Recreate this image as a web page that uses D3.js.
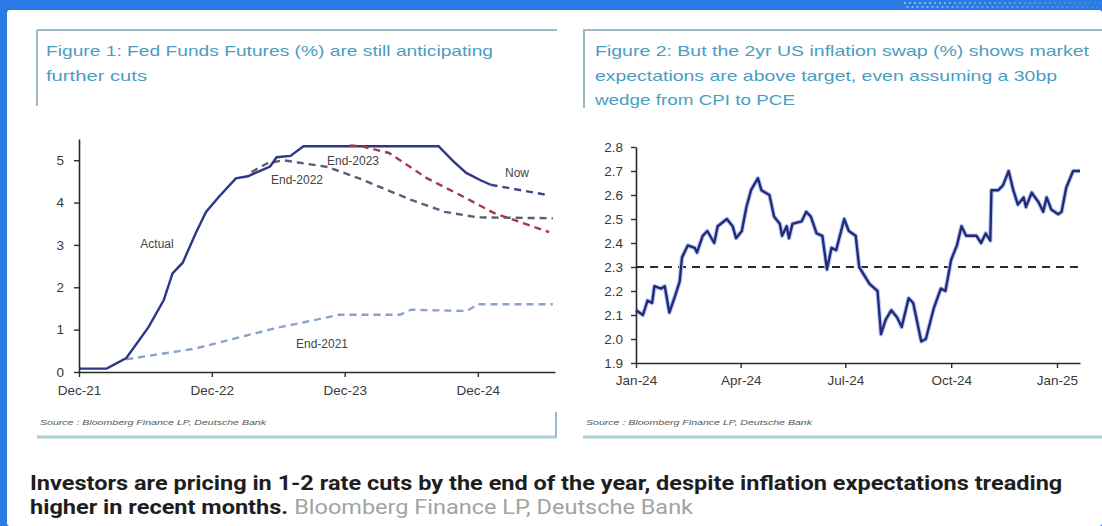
<!DOCTYPE html>
<html>
<head>
<meta charset="utf-8">
<script src="https://cdn.jsdelivr.net/npm/d3@7"></script>
<style>
  body { margin: 0; background: #ffffff; }
  svg { display: block; font-family: "Liberation Sans", Arial, sans-serif; }
</style>
</head>
<body>
<svg id="chart"></svg>
<script>
/** Figure 1: fed funds actual + futures curves (%) */
const actualDates = ['2021-12-01','2022-02-15','2022-04-10','2022-06-10','2022-07-22','2022-08-15','2022-09-12','2022-10-18','2022-11-15','2022-12-20','2023-02-05','2023-03-10','2023-04-05','2023-05-10','2023-05-28','2023-07-05','2023-08-10','2024-08-15','2024-09-25','2024-10-30','2024-12-10','2025-01-05'];
const actualRates = [0.08,0.08,0.33,1.06,1.7,2.33,2.58,3.28,3.78,4.13,4.57,4.62,4.72,4.85,5.07,5.1,5.33,5.33,4.97,4.7,4.52,4.42];

const nowDates = ['2025-01-05','2025-06-15'];
const nowRates = [4.42,4.17];

const end2021Dates = ['2022-04-10','2022-10-15','2023-03-01','2023-06-01','2023-08-15','2023-11-15','2024-05-01','2024-06-01','2024-11-01','2024-12-01','2025-06-25'];
const end2021Rates = [0.3,0.55,0.85,1.05,1.18,1.35,1.35,1.47,1.44,1.6,1.6];

const end2022Dates = ['2023-03-20','2023-05-01','2023-06-15','2023-10-15','2024-01-10','2024-06-01','2024-09-01','2024-12-01','2025-06-25'];
const end2022Rates = [4.72,4.92,5.0,4.84,4.57,4.06,3.78,3.65,3.63];

const end2023Dates = ['2023-12-15','2024-01-15','2024-04-01','2024-07-15','2024-10-15','2025-01-15','2025-03-10','2025-06-15'];
const end2023Rates = [5.35,5.33,5.17,4.57,4.17,3.75,3.59,3.3];

const fig1TickDates = ['2021-12-01','2022-12-01','2023-12-01','2024-12-01'];
const fig1TickLabels = ['Dec-21','Dec-22','Dec-23','Dec-24'];
const fig1YTicks = [0,1,2,3,4,5];

/** Figure 2: 2yr US inflation swap (%) */
const swapDates = ['2024-01-01','2024-01-07','2024-01-11','2024-01-15','2024-01-17','2024-01-23','2024-01-26','2024-01-30','2024-02-04','2024-02-08','2024-02-10','2024-02-15','2024-02-21','2024-02-23','2024-02-28','2024-03-03','2024-03-09','2024-03-12','2024-03-20','2024-03-25','2024-03-28','2024-04-02','2024-04-06','2024-04-10','2024-04-16','2024-04-19','2024-04-26','2024-04-30','2024-05-05','2024-05-07','2024-05-11','2024-05-13','2024-05-16','2024-05-24','2024-05-28','2024-06-01','2024-06-06','2024-06-11','2024-06-15','2024-06-19','2024-06-23','2024-06-30','2024-07-04','2024-07-10','2024-07-13','2024-07-22','2024-07-29','2024-08-01','2024-08-05','2024-08-10','2024-08-15','2024-08-19','2024-08-25','2024-08-29','2024-09-05','2024-09-09','2024-09-16','2024-09-22','2024-09-26','2024-10-01','2024-10-06','2024-10-10','2024-10-14','2024-10-19','2024-10-23','2024-10-27','2024-10-31','2024-11-04','2024-11-05','2024-11-11','2024-11-15','2024-11-20','2024-11-24','2024-11-28','2024-12-03','2024-12-05','2024-12-10','2024-12-16','2024-12-20','2024-12-23','2024-12-27','2025-01-02','2025-01-05','2025-01-09','2025-01-15','2025-01-21'];
const swapValues = [2.12,2.10,2.16,2.15,2.22,2.21,2.22,2.11,2.18,2.24,2.34,2.39,2.38,2.36,2.43,2.45,2.40,2.47,2.50,2.47,2.42,2.45,2.55,2.62,2.67,2.62,2.60,2.51,2.48,2.43,2.47,2.42,2.48,2.49,2.53,2.51,2.44,2.43,2.29,2.38,2.37,2.50,2.45,2.43,2.30,2.23,2.20,2.02,2.08,2.12,2.09,2.05,2.17,2.15,1.99,2.00,2.13,2.21,2.20,2.33,2.39,2.47,2.43,2.43,2.43,2.40,2.44,2.41,2.62,2.62,2.64,2.70,2.62,2.56,2.59,2.55,2.61,2.57,2.53,2.59,2.54,2.52,2.53,2.63,2.70,2.70];
const swapTarget = 2.3;

const fig2TickDates = ['2024-01-01','2024-04-01','2024-07-01','2024-10-01','2025-01-01'];
const fig2TickLabels = ['Jan-24','Apr-24','Jul-24','Oct-24','Jan-25'];
const fig2YTicks = [1.9,2.0,2.1,2.2,2.3,2.4,2.5,2.6,2.7,2.8];

let width = 1102;
let height = 526;

let svg = d3.select('#chart');
const parse = d3.timeParse('%Y-%m-%d');
const zip = (ds, vs) => ds.map((d, i) => ({ date: parse(d), value: vs[i] }));

let x1, y1, x2, y2;

/** Page frame: blue band, card, panel borders */
const drawFrame = () => {
    svg.attr('width', width).attr('height', height);

    svg.append('rect').attr('width', width).attr('height', height).attr('fill', '#2a7be3');
    svg.append('rect').attr('x', 7).attr('y', 10).attr('width', width - 7).attr('height', height - 10)
        .attr('rx', 3).attr('fill', '#ffffff');

    // decorative dots in the top band
    let dots = svg.append('g').attr('fill', '#9fcaf7');
    for (let r = 0; r < 2; r++) {
        for (let c = 0; c < 40; c++) {
            dots.append('circle')
                .attr('cx', 905 + c * 5 + r * 2.5)
                .attr('cy', 3 + r * 4)
                .attr('r', 1.1)
                .attr('opacity', 0.9 - c * 0.018);
        }
    }

    let border = '#9db9c6';
    // left panel
    svg.append('line').attr('x1', 37).attr('x2', 557).attr('y1', 30).attr('y2', 30).attr('stroke', border).attr('stroke-width', 2);
    svg.append('line').attr('x1', 37).attr('x2', 37).attr('y1', 30).attr('y2', 106).attr('stroke', border).attr('stroke-width', 2);
    svg.append('line').attr('x1', 37).attr('x2', 557).attr('y1', 437).attr('y2', 437).attr('stroke', '#a8cdd6').attr('stroke-width', 3);
    svg.append('line').attr('x1', 556).attr('x2', 556).attr('y1', 412).attr('y2', 437).attr('stroke', border).attr('stroke-width', 2);
    // right panel
    svg.append('line').attr('x1', 583).attr('x2', width).attr('y1', 30).attr('y2', 30).attr('stroke', border).attr('stroke-width', 2);
    svg.append('line').attr('x1', 584).attr('x2', 584).attr('y1', 30).attr('y2', 108).attr('stroke', border).attr('stroke-width', 2);
    svg.append('line').attr('x1', 583).attr('x2', width).attr('y1', 437).attr('y2', 437).attr('stroke', '#a8cdd6').attr('stroke-width', 3);
};

/** Titles, sources and caption */
const drawTexts = () => {
    const title = (x, y, txt, len) => svg.append('text')
        .attr('x', x).attr('y', y).attr('fill', '#4a9dc2')
        .style('font-size', '15px')
        .attr('textLength', len).attr('lengthAdjust', 'spacingAndGlyphs')
        .text(txt);

    title(46, 56, 'Figure 1: Fed Funds Futures (%) are still anticipating', 447);
    title(46, 81, 'further cuts', 101);
    title(595, 56, 'Figure 2: But the 2yr US inflation swap (%) shows market', 494);
    title(595, 81, 'expectations are above target, even assuming a 30bp', 462);
    title(595, 105, 'wedge from CPI to PCE', 200);

    const source = (x) => svg.append('text')
        .attr('x', x).attr('y', 425).attr('fill', '#555')
        .style('font-size', '8px').style('font-style', 'italic')
        .attr('textLength', 226).attr('lengthAdjust', 'spacingAndGlyphs')
        .text('Source : Bloomberg Finance LP, Deutsche Bank');
    source(40);
    source(586);

    // caption: condensed look via one horizontal squeeze for both lines
    let cap = svg.append('g')
        .style('font-family', '"Liberation Sans Narrow", Roboto, sans-serif')
        .style('font-size', '20px');
    let l1 = cap.append('text').attr('x', 0).attr('y', 490).attr('fill', '#1e1e1e').style('font-weight', 700)
        .text('Investors are pricing in 1-2 rate cuts by the end of the year, despite inflation expectations treading');
    let l2 = cap.append('text').attr('x', 0).attr('y', 514).attr('fill', '#1e1e1e').style('font-weight', 700)
        .text('higher in recent months.');
    let w2 = l2.node().getComputedTextLength();
    cap.append('text').attr('x', w2 + 5).attr('y', 514).attr('fill', '#a3a3a3')
        .text('Bloomberg Finance LP, Deutsche Bank');
    let k = 1033 / l1.node().getComputedTextLength();
    cap.attr('transform', `translate(30,0) scale(${k},1)`);
};

/** Generic axis styling */
const styleAxis = (g) => {
    g.select('.domain').attr('stroke', '#2a2a2a').attr('stroke-width', 1.6);
    g.selectAll('.tick line').attr('stroke', '#2a2a2a').attr('stroke-width', 1.4);
    g.selectAll('.tick text').attr('fill', '#3a3a3a').style('font-size', '13.5px')
        .style('font-family', '"Liberation Sans", Arial, sans-serif');
};

/** Figure 1 */
const drawFigure1 = () => {
    x1 = d3.scaleTime().domain([parse('2021-12-01'), parse('2025-07-01')]).range([79, 555]);
    y1 = d3.scaleLinear().domain([0, 5.5]).range([372, 139]);

    let line = d3.line().x(d => x1(d.date)).y(d => y1(d.value));

    const series = [
        { data: zip(end2021Dates, end2021Rates), color: '#8da3cf', dash: '7,5' },
        { data: zip(end2022Dates, end2022Rates), color: '#5a5c78', dash: '7,5' },
        { data: zip(actualDates, actualRates), color: '#2d3687', dash: null },
        { data: zip(end2023Dates, end2023Rates), color: '#a63a4a', dash: '7,5' },
        { data: zip(nowDates, nowRates), color: '#3b4590', dash: '7,5' }
    ];

    svg.append('g').selectAll('path')
        .data(series)
        .enter()
        .append('path')
        .attr('d', s => line(s.data))
        .attr('fill', 'none')
        .attr('stroke', s => s.color)
        .attr('stroke-width', 2.4)
        .attr('stroke-dasharray', s => s.dash);

    let xAxis = d3.axisBottom(x1)
        .tickValues(fig1TickDates.map(parse))
        .tickFormat((d, i) => fig1TickLabels[i])
        .tickSize(5).tickSizeOuter(0).tickPadding(8);
    let yAxis = d3.axisLeft(y1)
        .tickValues(fig1YTicks)
        .tickFormat(d3.format('d'))
        .tickSize(5).tickSizeOuter(0).tickPadding(10);

    svg.append('g').attr('transform', 'translate(0,372)').call(xAxis).call(styleAxis);
    svg.append('g').attr('transform', 'translate(79,0)').call(yAxis).call(styleAxis);

    const labels = [
        ['Actual', 157, 248], ['End-2022', 297, 184], ['End-2023', 353, 165],
        ['Now', 517, 177], ['End-2021', 322, 348]
    ];
    svg.append('g').selectAll('text')
        .data(labels)
        .enter()
        .append('text')
        .attr('x', d => d[1]).attr('y', d => d[2])
        .attr('text-anchor', 'middle')
        .attr('fill', '#444')
        .style('font-size', '12px')
        .text(d => d[0]);
};

/** Figure 2 */
const drawFigure2 = () => {
    x2 = d3.scaleTime().domain([parse('2024-01-01'), parse('2025-01-21')]).range([636, 1080]);
    y2 = d3.scaleLinear().domain([1.9, 2.8]).range([363, 147]);

    svg.append('line')
        .attr('x1', x2(parse('2024-01-01'))).attr('x2', x2(parse('2025-01-21')))
        .attr('y1', y2(swapTarget)).attr('y2', y2(swapTarget))
        .attr('stroke', '#2a2a2a').attr('stroke-width', 2).attr('stroke-dasharray', '8,6');

    let line = d3.line().x(d => x2(d.date)).y(d => y2(d.value));
    let data = zip(swapDates, swapValues);

    svg.append('path').datum(data)
        .attr('d', line).attr('fill', 'none')
        .attr('stroke', '#b9c8ee').attr('stroke-width', 4.5).attr('stroke-linejoin', 'round');
    svg.append('path').datum(data)
        .attr('d', line).attr('fill', 'none')
        .attr('stroke', '#222a7a').attr('stroke-width', 2.4).attr('stroke-linejoin', 'round');

    let xAxis = d3.axisBottom(x2)
        .tickValues(fig2TickDates.map(parse))
        .tickFormat((d, i) => fig2TickLabels[i])
        .tickSize(5).tickSizeOuter(0).tickPadding(7);
    let yAxis = d3.axisLeft(y2)
        .tickValues(fig2YTicks)
        .tickFormat(d3.format('.1f'))
        .tickSize(5).tickSizeOuter(0).tickPadding(8);

    svg.append('g').attr('transform', 'translate(0,363)').call(xAxis).call(styleAxis);
    svg.append('g').attr('transform', 'translate(636,0)').call(yAxis).call(styleAxis);
};

drawFrame();
drawTexts();
drawFigure1();
drawFigure2();
</script>
</body>
</html>
